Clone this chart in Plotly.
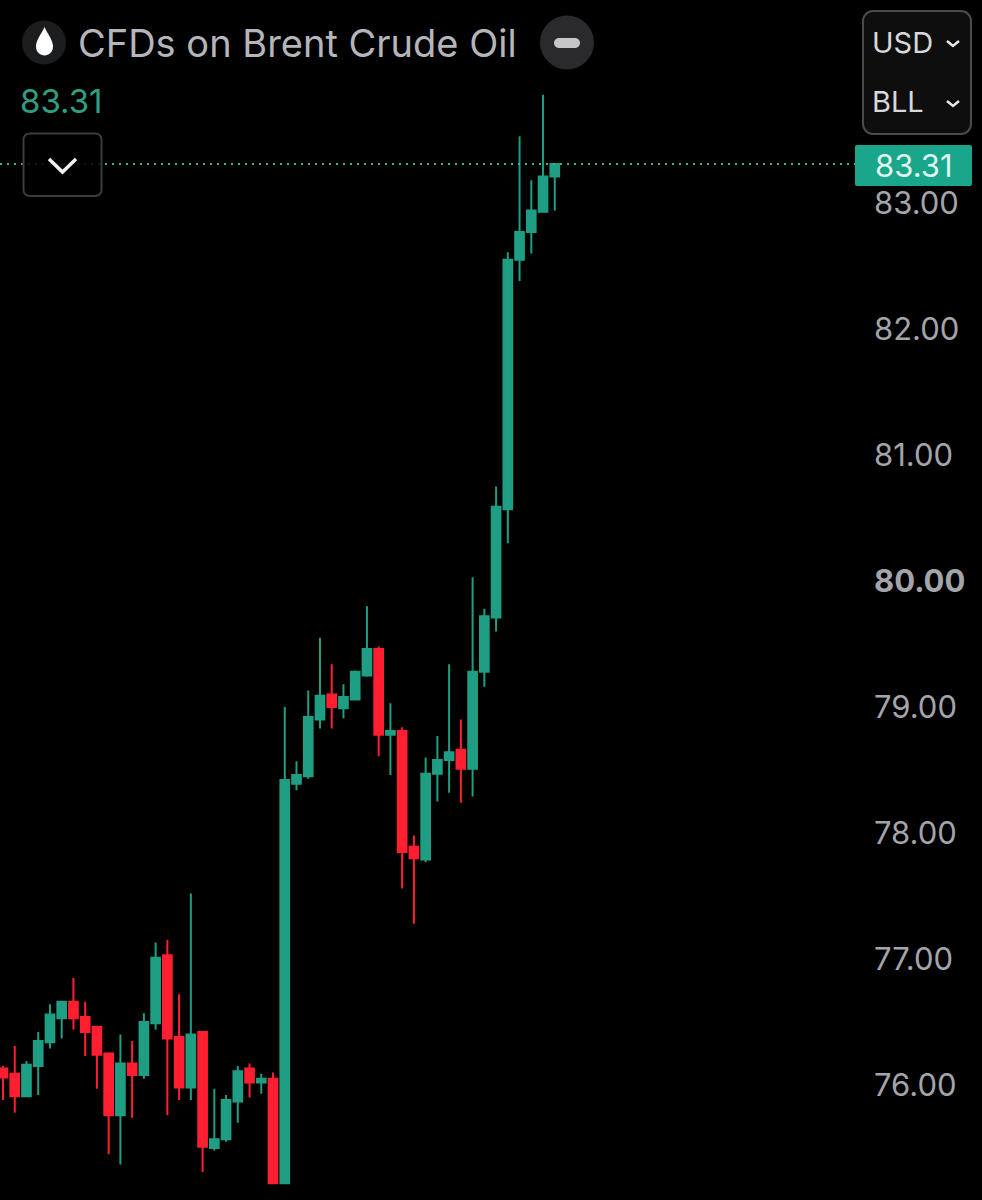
import plotly.graph_objects as go

# ---- data ----
OPEN = [76.13,76.09,75.91,76.15,76.34,76.53,76.66,76.54,76.46,76.25,75.76,76.17,76.08,76.49,77.03,76.38,
        75.98,76.42,75.50,75.57,75.87,76.13,76.02,76.05,75.22,78.39,78.45,78.90,79.10,78.99,79.06,79.25,
        79.46,78.78,78.81,77.89,77.79,78.47,78.58,78.66,78.51,79.28,79.71,80.57,82.55,82.77,82.93,83.21]
HIGH = [76.15,76.31,76.19,76.42,76.64,76.66,76.85,76.66,76.47,76.26,76.40,76.35,76.57,77.13,77.15,76.72,
        77.52,76.42,75.97,75.92,76.15,76.17,76.09,76.10,79.00,78.57,79.13,79.55,79.34,79.18,79.29,79.80,
        79.48,79.03,78.84,77.98,78.60,78.77,79.34,78.90,80.03,79.78,80.75,82.61,83.53,83.18,83.86,83.31]
LOW = [75.88,75.78,75.91,75.92,76.29,76.37,76.44,76.23,75.97,75.45,75.37,75.74,76.05,76.44,75.76,75.88,
       75.88,75.31,75.48,75.55,75.70,75.90,75.93,75.22,75.22,78.34,78.43,78.83,78.83,78.91,79.06,79.24,
       78.61,78.46,77.56,77.28,77.77,78.25,78.32,78.24,78.29,79.16,79.60,80.30,82.38,82.60,82.93,82.94]
CLOSE = [76.06,75.91,76.16,76.35,76.56,76.66,76.53,76.42,76.24,75.76,76.17,76.08,76.50,77.01,76.37,75.98,
         76.40,75.51,75.57,75.88,76.11,76.02,76.05,75.22,78.42,78.46,78.92,79.09,79.00,79.08,79.28,79.46,
         78.78,78.81,77.85,77.80,78.47,78.58,78.64,78.51,79.28,79.72,80.59,82.55,82.77,82.94,83.21,83.31]
INDEX = list(range(len(OPEN)))
TICK_VALUES = [76, 77, 78, 79, 80, 81, 82, 83]
TICK_LABELS = ["76.00", "77.00", "78.00", "79.00", "<b>80.00</b>", "81.00", "82.00", "83.00"]
LAST_PRICE = 83.31
TITLE = "CFDs on Brent Crude Oil"

W, H = 982, 1200
GREEN, RED = "#1f9e83", "#ff1f31"
FONT = "Inter"
STEP = 11.74


def px(x):
    return x / W


def py(y):
    return 1 - y / H


def pt(x, y):
    return f"{px(x):.5f},{py(y):.5f}"


def round_rect(x0, y0, x1, y1, r):
    k = r * 0.45
    return (f"M{pt(x0+r,y0)} L{pt(x1-r,y0)} C{pt(x1-k,y0)} {pt(x1,y0+k)} {pt(x1,y0+r)} "
            f"L{pt(x1,y1-r)} C{pt(x1,y1-k)} {pt(x1-k,y1)} {pt(x1-r,y1)} "
            f"L{pt(x0+r,y1)} C{pt(x0+k,y1)} {pt(x0,y1-k)} {pt(x0,y1-r)} "
            f"L{pt(x0,y0+r)} C{pt(x0,y0+k)} {pt(x0+k,y0)} {pt(x0+r,y0)} Z")


def shape_path(path, fill="rgba(0,0,0,0)", line="rgba(0,0,0,0)", width=0):
    return dict(type="path", xref="paper", yref="paper", path=path, fillcolor=fill,
                line=dict(color=line, width=width), layer="above")


def chevron(x0, x1, y0, y1):
    xm = (x0 + x1) / 2
    return f"M{pt(x0,y0)} L{pt(xm,y1)} L{pt(x1,y0)}"


def circle(cx, cy, r, fill):
    return dict(type="circle", xref="paper", yref="paper", x0=px(cx - r), x1=px(cx + r),
                y0=py(cy + r), y1=py(cy - r), fillcolor=fill, line=dict(width=0), layer="above")


def label(text, x, y, size, color, xanchor="left"):
    return dict(text=text, xref="paper", yref="paper", x=px(x), y=py(y), xanchor=xanchor, yanchor="middle",
                showarrow=False, font=dict(family=FONT, size=size, color=color), borderpad=0)


drop = (f"M{pt(44.5,27)} C{pt(47,33)} {pt(53,40)} {pt(53,46.5)} C{pt(53,52)} {pt(49,55.5)} {pt(44.5,55.5)} "
        f"C{pt(40,55.5)} {pt(36,52)} {pt(36,46.5)} C{pt(36,40)} {pt(42,33)} {pt(44.5,27)} Z")

shapes = [
    dict(type="line", xref="paper", yref="y", x0=0, x1=px(855), y0=LAST_PRICE, y1=LAST_PRICE,
         line=dict(color="#35b795", width=2, dash="2px,5px"), layer="above"),
    circle(44, 42.5, 22, "#1b1d1f"),
    shape_path(drop, fill="#ffffff"),
    circle(567, 42.5, 27, "#2a2a2c"),
    shape_path(round_rect(554, 38, 580, 48, 5), fill="#c6c6ca"),
    shape_path(round_rect(23.5, 133.5, 101.5, 196, 6), fill="rgba(0,0,0,0.85)", line="#3c3c3e", width=2),
    shape_path(chevron(49, 76, 159, 172), line="#f0f0f0", width=3.5),
    shape_path(round_rect(863, 11, 971, 134, 10), fill="#0e0e0e", line="#4b4b4d", width=2),
    shape_path(chevron(947, 959, 41, 46), line="#e8e8e8", width=2.5),
    shape_path(chevron(947, 959, 101, 106), line="#e8e8e8", width=2.5),
    shape_path(round_rect(855, 145, 972, 186, 2), fill="#1aa68a"),
]

annotations = [
    label(TITLE, 77, 43, 38, "#b4b6bb"),
    label(f"{LAST_PRICE:.2f}", 19, 101, 33, "#2f9f80"),
    label("USD", 871, 42, 29, "#d8d8da"),
    label("BLL", 871, 102, 29, "#d8d8da"),
    label(f"{LAST_PRICE:.2f}", 874, 165.5, 31, "#dff5ef"),
]

fig = go.Figure(go.Candlestick(
    x=INDEX, open=OPEN, high=HIGH, low=LOW, close=CLOSE, whiskerwidth=0,
    increasing=dict(line=dict(color=GREEN, width=2), fillcolor=GREEN),
    decreasing=dict(line=dict(color=RED, width=2), fillcolor=RED),
    hoverinfo="skip", showlegend=False,
))
fig.update_layout(
    width=W, height=H, margin=dict(l=0, r=0, t=0, b=0), autosize=False,
    paper_bgcolor="#000000", plot_bgcolor="#000000", showlegend=False, boxgap=0.26, boxgroupgap=0,
    shapes=shapes, annotations=annotations, dragmode=False,
    xaxis=dict(type="linear", domain=[0, px(855)], range=[-3 / STEP, 852 / STEP], visible=False,
               rangeslider=dict(visible=False), fixedrange=True),
    yaxis=dict(side="right", domain=[0, 1], range=[83 - 997 / 126, 83 + 203 / 126], showgrid=False, zeroline=False,
               showline=False, ticks="", tickmode="array", tickvals=TICK_VALUES, ticktext=TICK_LABELS,
               tickfont=dict(family=FONT, size=31, color="#a3a5aa"), ticklabelstandoff=18,
               automargin=False, fixedrange=True),
)
fig.write_html("out.html", config=dict(displayModeBar=False),
               post_script="document.body.style.margin='0';document.body.style.overflow='hidden';")
